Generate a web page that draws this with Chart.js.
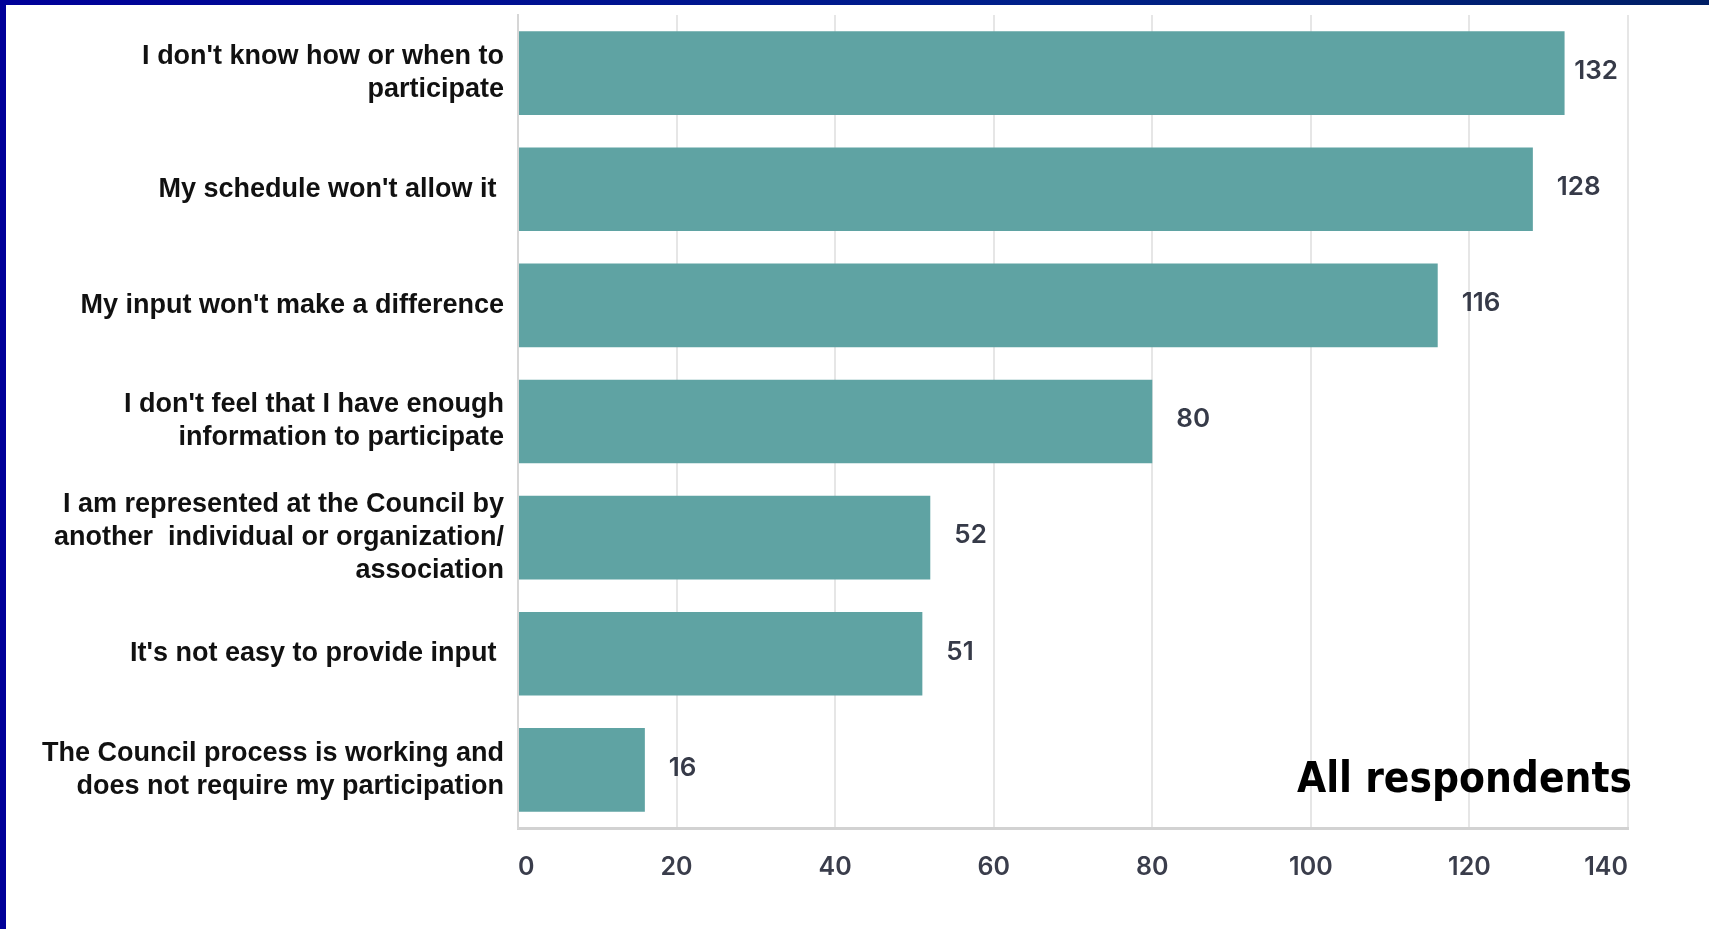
<!DOCTYPE html>
<html>
<head>
<meta charset="utf-8">
<script src="https://cdn.jsdelivr.net/npm/chart.js"></script>
<style>
  html, body { margin: 0; padding: 0; background: #fff; overflow: hidden; }
  #edgeLeft { position: absolute; left: 0; top: 0; width: 6px; height: 929px; background: #000099; }
  #edgeTop { position: absolute; left: 0; top: 0; width: 1709px; height: 5px;
             background: linear-gradient(to right, #000099, #00208a 60%, #001f66); }
  #wrap { position: absolute; left: 6px; top: 5px; width: 1703px; height: 924px; }
</style>
</head>
<body>
<div id="edgeLeft"></div>
<div id="edgeTop"></div>
<div id="wrap"><canvas id="chart"></canvas></div>
<script>
// reasons for not taking part, one entry per bar
const reasons = [
  ["I don't know how or when to", "participate"],
  "My schedule won't allow it ",
  "My input won't make a difference",
  ["I don't feel that I have enough", "information to participate"],
  ["I am represented at the Council by", "another  individual or organization/", "association"],
  "It's not easy to provide input ",
  ["The Council process is working and", "does not require my participation"],
];
const counts = [132, 128, 116, 80, 52, 51, 16];
const xTicks = [0, 20, 40, 60, 80, 100, 120, 140];
const groupLabel = 'All respondents';

const barColor = '#5fa3a3';
const numFont = '600 26px Inter, "Open Sans", sans-serif';

// value printed just past the end of each bar
const valueLabels = {
  id: 'valueLabels',
  afterDatasetsDraw(chart) {
    const { ctx, chartArea } = chart;
    const meta = chart.getDatasetMeta(0);
    ctx.save();
    ctx.font = numFont;
    ctx.fillStyle = '#363a48';
    ctx.textAlign = 'left';
    ctx.textBaseline = 'middle';
    meta.data.forEach((bar, i) => {
      const txt = String(counts[i]);
      const w = ctx.measureText(txt).width;
      let x = bar.x + 24;
      if (x + w > chartArea.right - 10) x = chartArea.right - 10 - w;
      ctx.fillText(txt, x, bar.y - 2);
    });
    ctx.restore();
  }
};

// group caption in the lower right corner of the plot
const groupCaption = {
  id: 'groupCaption',
  afterDraw(chart) {
    const { ctx, chartArea } = chart;
    ctx.save();
    ctx.font = 'bold 42px "DejaVu Sans Condensed", "DejaVu Sans", sans-serif';
    ctx.fontStretch = 'condensed';
    ctx.fillStyle = '#000';
    ctx.textAlign = 'right';
    ctx.textBaseline = 'alphabetic';
    ctx.fillText(groupLabel, chartArea.right + 4, chartArea.bottom - 36);
    ctx.restore();
  }
};

new Chart(document.getElementById('chart'), {
  type: 'bar',
  data: {
    labels: reasons,
    datasets: [{
      data: counts,
      backgroundColor: barColor,
      borderWidth: 0,
      categoryPercentage: 1,
      barPercentage: 0.72,
    }]
  },
  options: {
    indexAxis: 'y',
    responsive: true,
    maintainAspectRatio: false,
    animation: false,
    layout: { padding: { top: 10, right: 81, left: 0, bottom: 0 } },
    plugins: {
      legend: { display: false },
      tooltip: { enabled: false },
    },
    scales: {
      x: {
        min: 0,
        max: 140,
        afterBuildTicks(scale) { scale.ticks = xTicks.map(v => ({ value: v })); },
        afterFit(scale) {
          scale.height = 101;
          scale.paddingLeft = 0;
          scale.paddingRight = 0;
        },
        grid: { color: '#e6e6e6', lineWidth: 2, drawTicks: false },
        border: { display: true, color: '#d2d2d2', width: 3 },
        ticks: {
          align: 'inner',
          padding: 24,
          color: '#3a3d4b',
          font: { family: 'Inter, "Open Sans", sans-serif', size: 25, weight: '600' },
        },
      },
      y: {
        afterFit(scale) {
          scale.width = 512;
          scale.paddingTop = 0;
          scale.paddingBottom = 0;
        },
        grid: { display: false, drawTicks: false },
        border: { display: true, color: '#d6d6d6', width: 2 },
        ticks: {
          padding: 14,
          color: '#111',
          font: { family: '"Liberation Sans", Arial, sans-serif', size: 27, weight: 'bold', lineHeight: 1.22 },
        },
      },
    },
  },
  plugins: [valueLabels, groupCaption],
});
</script>
</body>
</html>
